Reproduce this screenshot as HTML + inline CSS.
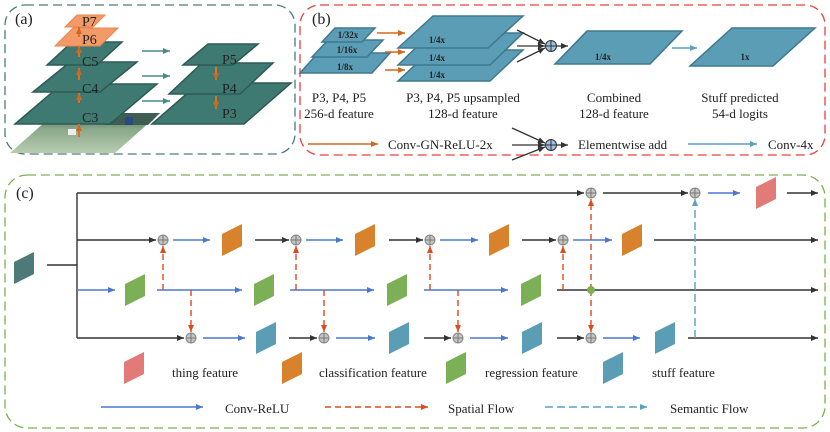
<!DOCTYPE html>
<html><head><meta charset="utf-8"><style>body{margin:0;background:#fff}svg{display:block}text{font-family:"Liberation Serif",serif;fill:#222}</style></head><body>
<svg width="830" height="432" viewBox="0 0 830 432" xmlns="http://www.w3.org/2000/svg">
<defs>
<marker id="ak" markerWidth="8" markerHeight="8" refX="7" refY="4" orient="auto" markerUnits="userSpaceOnUse"><path d="M0,1 L7,4 L0,7z" fill="#333"/></marker>
<marker id="ab" markerWidth="8" markerHeight="8" refX="7" refY="4" orient="auto" markerUnits="userSpaceOnUse"><path d="M0,1 L7,4 L0,7z" fill="#4a78d0"/></marker>
<marker id="ar" markerWidth="8" markerHeight="8" refX="7" refY="4" orient="auto" markerUnits="userSpaceOnUse"><path d="M0,1 L7,4 L0,7z" fill="#dd4a1e"/></marker>
<marker id="ao" markerWidth="8" markerHeight="8" refX="7" refY="4" orient="auto" markerUnits="userSpaceOnUse"><path d="M0,1 L7,4 L0,7z" fill="#d0681e"/></marker>
<marker id="at" markerWidth="8" markerHeight="8" refX="7" refY="4" orient="auto" markerUnits="userSpaceOnUse"><path d="M0,1 L7,4 L0,7z" fill="#5aa0c0"/></marker>
<marker id="ag" markerWidth="8" markerHeight="8" refX="7" refY="4" orient="auto" markerUnits="userSpaceOnUse"><path d="M0,1 L7,4 L0,7z" fill="#4a8a88"/></marker>
<g id="plus"><circle r="5" fill="#c4c4c4" stroke="#888" stroke-width="1"/><path d="M-5,0H5M0,-5V5" stroke="#777" stroke-width="1"/></g>
<g id="bplus"><circle r="5.5" fill="#9cc0e0" stroke="#333" stroke-width="1"/><path d="M-5.5,0H5.5M0,-5.5V5.5" stroke="#333" stroke-width="1"/></g>
<linearGradient id="ph" x1="0" y1="0" x2="0" y2="1"><stop offset="0" stop-color="#4a6a5a"/><stop offset="0.4" stop-color="#8aa88a"/><stop offset="1" stop-color="#b8ccb0"/></linearGradient>
</defs>

<!-- (a) -->
<rect x="5" y="5" width="290" height="149" rx="20" fill="none" stroke="#4d7a7a" stroke-width="1.3" stroke-dasharray="9,5"/>
<text x="15" y="24" font-size="16">(a)</text>
<polygon points="10,153 55,113 160,113 115,153" fill="url(#ph)"/>
<polygon points="105,125 115,113 160,113 148,125" fill="#3e5e54"/>
<rect x="125" y="117" width="8" height="8" fill="#2a4a80"/>
<rect x="68" y="129" width="8" height="6" fill="#eee"/>
<g fill="#3f7a72" stroke="#2d5a54" stroke-width="1.5">
<polygon points="15,124 62,84 157,84 110,124"/>
<polygon points="33,92 70,62 137,62 100,92"/>
<polygon points="47,65 72,42 122,42 97,65"/>
<polygon points="152,124 199,83 291,83 244,124"/>
<polygon points="169,94 202,63 273,63 240,94"/>
<polygon points="183,65 208,44 258,44 233,65"/>
</g>
<g fill="#f39a68" stroke="#e8864f" stroke-width="1">
<polygon points="55,46 73,28 118,28 100,46"/>
<polygon points="65,27 77,15 105,15 93,27"/>
</g>
<g stroke="#e07020" stroke-width="2" marker-end="url(#ao)">
<line x1="79" y1="137" x2="79" y2="124"/><line x1="79" y1="103" x2="79" y2="93"/><line x1="79" y1="80" x2="79" y2="68"/><line x1="79" y1="57" x2="79" y2="46"/><line x1="79" y1="37" x2="79" y2="27"/>
<line x1="216" y1="67" x2="216" y2="80"/><line x1="216" y1="96" x2="216" y2="109"/>
</g>
<g font-size="14"><text x="82" y="122">C3</text><text x="82" y="93">C4</text><text x="82" y="66">C5</text><text x="82" y="44">P6</text><text x="82" y="26">P7</text>
<text x="222" y="64">P5</text><text x="222" y="93">P4</text><text x="222" y="118">P3</text></g>
<g stroke="#4a8a88" stroke-width="1.5" marker-end="url(#ag)">
<line x1="142" y1="51" x2="170" y2="51"/><line x1="142" y1="76" x2="170" y2="76"/><line x1="142" y1="101" x2="170" y2="101"/>
</g>

<!-- (b) -->
<rect x="300" y="5" width="525" height="150" rx="20" fill="none" stroke="#e84040" stroke-width="1.3" stroke-dasharray="9,5"/>
<text x="312" y="24" font-size="16">(b)</text>
<g fill="#5b9db4" stroke="#3e7890" stroke-width="1.5">
<polygon points="300,73 318,53 390,53 372,73"/>
<polygon points="312,57 328,40 383,40 367,57"/>
<polygon points="322,42 335,28 375,28 362,42"/>
<polygon points="398,81 431,50 523,50 490,81"/>
<polygon points="398,65 431,33 523,33 490,65"/>
<polygon points="398,48 433,16 523,16 488,48"/>
<polygon points="555,64 587,31 682,31 650,64"/>
<polygon points="690,66 732,28 815,28 773,66"/>
</g>
<g font-size="9" font-weight="bold" text-anchor="middle"><text x="348" y="38">1/32x</text><text x="347" y="53">1/16x</text><text x="345" y="70">1/8x</text>
<text x="437" y="43">1/4x</text><text x="437" y="61">1/4x</text><text x="437" y="78">1/4x</text><text x="603" y="60">1/4x</text><text x="745" y="60">1x</text></g>
<g stroke="#d0681e" stroke-width="1.5" marker-end="url(#ao)">
<line x1="377" y1="33" x2="405" y2="33"/><line x1="385" y1="52" x2="405" y2="52"/><line x1="385" y1="70" x2="405" y2="70"/>
<line x1="308" y1="144" x2="378" y2="144"/>
</g>
<g stroke="#333" stroke-width="1.3" marker-end="url(#ak)">
<line x1="517" y1="30" x2="545" y2="44"/><line x1="517" y1="46" x2="545" y2="46"/><line x1="517" y1="62" x2="545" y2="48"/><line x1="557" y1="46" x2="568" y2="46"/>
<line x1="512" y1="128" x2="545" y2="143"/><line x1="512" y1="145" x2="545" y2="145"/><line x1="512" y1="160" x2="545" y2="147"/><line x1="557" y1="145" x2="568" y2="145"/>
</g>
<use href="#bplus" x="551" y="46"/><use href="#bplus" x="551" y="145"/>
<g stroke="#5aa0c0" stroke-width="1.5" marker-end="url(#at)"><line x1="672" y1="48" x2="697" y2="48"/><line x1="688" y1="144" x2="757" y2="144"/></g>
<g font-size="13" text-anchor="middle">
<text x="339" y="102">P3, P4, P5</text><text x="339" y="118">256-d feature</text>
<text x="463" y="102">P3, P4, P5 upsampled</text><text x="463" y="118">128-d feature</text>
<text x="614" y="102">Combined</text><text x="614" y="118">128-d feature</text>
<text x="740" y="102">Stuff predicted</text><text x="740" y="118">54-d logits</text></g>
<g font-size="13"><text x="388" y="149">Conv-GN-ReLU-2x</text><text x="578" y="149">Elementwise add</text><text x="768" y="149">Conv-4x</text></g>

<!-- (c) -->
<rect x="5" y="175" width="820" height="253" rx="22" fill="none" stroke="#7ab050" stroke-width="1.3" stroke-dasharray="9,5"/>
<text x="16" y="198" font-size="16">(c)</text>
<g stroke="#333" stroke-width="1.4" fill="none">
<polyline points="47,265 77,265"/><line x1="77" y1="193" x2="77" y2="338"/>
</g>
<g stroke="#333" stroke-width="1.4" marker-end="url(#ak)">
<line x1="77" y1="193" x2="584" y2="193"/><line x1="603" y1="193" x2="688" y2="193"/><line x1="787" y1="193" x2="818" y2="193"/>
<line x1="77" y1="240" x2="156" y2="240"/><line x1="255" y1="240" x2="289" y2="240"/><line x1="389" y1="240" x2="423" y2="240"/><line x1="522" y1="240" x2="556" y2="240"/><line x1="654" y1="240" x2="818" y2="240"/>
<line x1="557" y1="290" x2="818" y2="290"/>
<line x1="77" y1="338" x2="184" y2="338"/><line x1="289" y1="338" x2="317" y2="338"/><line x1="424" y1="338" x2="451" y2="338"/><line x1="557" y1="338" x2="584" y2="338"/><line x1="688" y1="338" x2="818" y2="338"/>
</g>
<g stroke="#4a78d0" stroke-width="1.4" marker-end="url(#ab)">
<line x1="708" y1="193" x2="740" y2="193"/>
<line x1="173" y1="240" x2="210" y2="240"/><line x1="306" y1="240" x2="343" y2="240"/><line x1="440" y1="240" x2="478" y2="240"/><line x1="573" y1="240" x2="612" y2="240"/>
<line x1="77" y1="290" x2="115" y2="290"/><line x1="157" y1="290" x2="242" y2="290"/><line x1="290" y1="290" x2="374" y2="290"/><line x1="424" y1="290" x2="508" y2="290"/>
<line x1="203" y1="338" x2="245" y2="338"/><line x1="336" y1="338" x2="375" y2="338"/><line x1="470" y1="338" x2="508" y2="338"/><line x1="603" y1="338" x2="640" y2="338"/>
<line x1="101" y1="407" x2="203" y2="407"/>
</g>
<g stroke="#dd4a1e" stroke-width="1.4" stroke-dasharray="6,4" marker-end="url(#ar)">
<line x1="163" y1="290" x2="163" y2="246"/><line x1="191" y1="290" x2="191" y2="332"/>
<line x1="296" y1="290" x2="296" y2="246"/><line x1="324" y1="290" x2="324" y2="332"/>
<line x1="430" y1="290" x2="430" y2="246"/><line x1="458" y1="290" x2="458" y2="332"/>
<line x1="563" y1="290" x2="563" y2="246"/>
<line x1="591" y1="290" x2="591" y2="199"/><line x1="591" y1="290" x2="591" y2="332"/>
<line x1="325" y1="407" x2="428" y2="407"/>
</g>
<g stroke="#5aa0c0" stroke-width="1.4" stroke-dasharray="8,4" marker-end="url(#at)">
<line x1="695" y1="338" x2="695" y2="199"/><line x1="545" y1="407" x2="647" y2="407"/>
</g>
<circle cx="591" cy="290" r="4" fill="#7ab050"/>
<use href="#plus" x="591" y="193"/><use href="#plus" x="695" y="193"/>
<use href="#plus" x="163" y="240"/><use href="#plus" x="296" y="240"/><use href="#plus" x="430" y="240"/><use href="#plus" x="563" y="240"/>
<use href="#plus" x="191" y="338"/><use href="#plus" x="324" y="338"/><use href="#plus" x="458" y="338"/><use href="#plus" x="591" y="338"/>
<g fill="#4d7a78"><polygon points="14,262 34,252 34,274 14,284"/></g>
<g fill="#d9822e"><polygon points="222,234 242,224 242,246 222,256"/><polygon points="355,234 375,224 375,246 355,256"/><polygon points="489,234 509,224 509,246 489,256"/><polygon points="622,234 642,224 642,246 622,256"/><polygon points="282,362 302,352 302,374 282,384"/></g>
<g fill="#7cb056"><polygon points="125,284 145,274 145,296 125,306"/><polygon points="254,284 274,274 274,296 254,306"/><polygon points="387,284 407,274 407,296 387,306"/><polygon points="521,284 541,274 541,296 521,306"/><polygon points="446,362 466,352 466,374 446,384"/></g>
<g fill="#5b9db4"><polygon points="256,332 276,322 276,344 256,354"/><polygon points="389,332 409,322 409,344 389,354"/><polygon points="522,332 542,322 542,344 522,354"/><polygon points="655,332 675,322 675,344 655,354"/><polygon points="603,362 623,352 623,374 603,384"/></g>
<g fill="#e27a78"><polygon points="756,187 776,177 776,199 756,209"/><polygon points="124,362 144,352 144,374 124,384"/></g>
<g font-size="13"><text x="172" y="377">thing feature</text><text x="319" y="377">classification feature</text><text x="485" y="377">regression feature</text><text x="652" y="377">stuff feature</text>
<text x="225" y="413">Conv-ReLU</text><text x="448" y="413">Spatial Flow</text><text x="670" y="413">Semantic Flow</text></g>
</svg>
</body></html>
